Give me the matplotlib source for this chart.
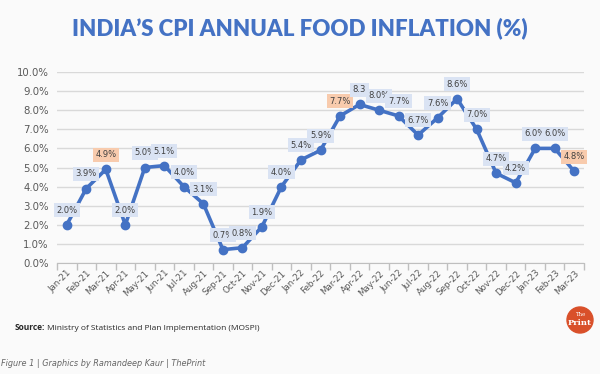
import matplotlib
matplotlib.use("Agg")
import matplotlib.pyplot as plt
from matplotlib.patches import Ellipse

months = ["Jan-21", "Feb-21", "Mar-21", "Apr-21", "May-21", "Jun-21", "Jul-21", "Aug-21",
          "Sep-21", "Oct-21", "Nov-21", "Dec-21", "Jan-22", "Feb-22", "Mar-22", "Apr-22",
          "May-22", "Jun-22", "Jul-22", "Aug-22", "Sep-22", "Oct-22", "Nov-22", "Dec-22",
          "Jan-23", "Feb-23", "Mar-23"]
inflation = [2.0, 3.9, 4.9, 2.0, 5.0, 5.1, 4.0, 3.1, 0.7, 0.8, 1.9, 4.0, 5.4, 5.9, 7.7, 8.3,
             8.0, 7.7, 6.7, 7.6, 8.6, 7.0, 4.7, 4.2, 6.0, 6.0, 4.8]
labels = ["2.0%", "3.9%", "4.9%", "2.0%", "5.0%", "5.1%", "4.0%", "3.1%", "0.7%", "0.8%",
          "1.9%", "4.0%", "5.4%", "5.9%", "7.7%", "8.3", "8.0%", "7.7%", "6.7%", "7.6%",
          "8.6%", "7.0%", "4.7%", "4.2%", "6.0%", "6.0%", "4.8%"]
highlight = ["Mar-21", "Mar-22", "Mar-23"]
yticks = [0, 1, 2, 3, 4, 5, 6, 7, 8, 9, 10]

BLUE = "#4472C4"
fig = plt.figure(figsize=(6.0, 3.74), dpi=100)
fig.patch.set_facecolor("#fafafa")

ax = fig.add_axes([57/600, 1-263/374, (584-57)/600, (263-72)/374])
ax.set_facecolor("none")
x = list(range(len(months)))
ax.plot(x, inflation, color=BLUE, lw=2.6, marker="o", ms=6, zorder=3)
ax.set_xlim(-0.5, len(months)-0.5)
ax.set_ylim(0, 10)
ax.set_yticks(yticks)
ax.set_yticklabels([f"{v:.1f}%" for v in yticks], fontsize=7.3, color="#595959")
ax.yaxis.grid(True, color="#d9d9d9", lw=1)
ax.set_axisbelow(True)
ax.tick_params(axis="y", length=0, pad=6)
ax.set_xticks(x)
ax.set_xticklabels(months, rotation=45, ha="right", rotation_mode="anchor",
                   fontsize=6.3, color="#595959")
ax.tick_params(axis="x", length=0, pad=4)
ax.set_xticks([i - 0.5 for i in range(len(months)+1)], minor=True)
ax.tick_params(axis="x", which="minor", length=5, color="#bfbfbf", width=1)
for s in ["top", "right", "left"]:
    ax.spines[s].set_visible(False)
ax.spines["bottom"].set_color("#bfbfbf")

for i, (v, lab, m) in enumerate(zip(inflation, labels, months)):
    fc = "#F8CBAD" if m in highlight else "#DAE3F3"
    ax.annotate(lab, (i, v), xytext=(0, 10.5), textcoords="offset points",
                ha="center", va="center", fontsize=6.0, color="#404040",
                bbox=dict(boxstyle="square,pad=0.3", fc=fc, ec="none"), zorder=4)

fig.text(0.5, 1-28/374, "INDIA\u2019S CPI ANNUAL FOOD INFLATION (%)", ha="center", va="center",
         fontsize=16, fontweight="heavy", color=BLUE, family="Lato")
t1 = fig.text(15/600, 1-328/374, "Source:", ha="left", va="center", fontsize=6.0,
              color="#262626", fontweight="bold", family="Open Sans")
fig.canvas.draw()
bb = t1.get_window_extent()
fig.text((bb.x1 + 2)/600, 1-328/374, "Ministry of Statistics and Plan Implementation (MOSPI)",
         ha="left", va="center", fontsize=6.0, color="#262626", family="Open Sans")
fig.text(1/600, 1-363/374, "Figure 1 | Graphics by Ramandeep Kaur | ThePrint", ha="left",
         va="center", fontsize=5.9, color="#666666", style="italic")

logo = Ellipse((580/600, 1-320/374), 26/600, 26/374, transform=fig.transFigure,
               color="#D9502A", zorder=5)
fig.patches.append(logo)
fig.text(580/600, 1-315/374, "The", ha="center", va="center", fontsize=4, color="white",
         family="DejaVu Serif", zorder=6)
fig.text(580/600, 1-323/374, "Print", ha="center", va="center", fontsize=6, color="white",
         family="DejaVu Serif", fontweight="bold", zorder=6)

fig.savefig("out.png", dpi=100, facecolor=fig.get_facecolor())
